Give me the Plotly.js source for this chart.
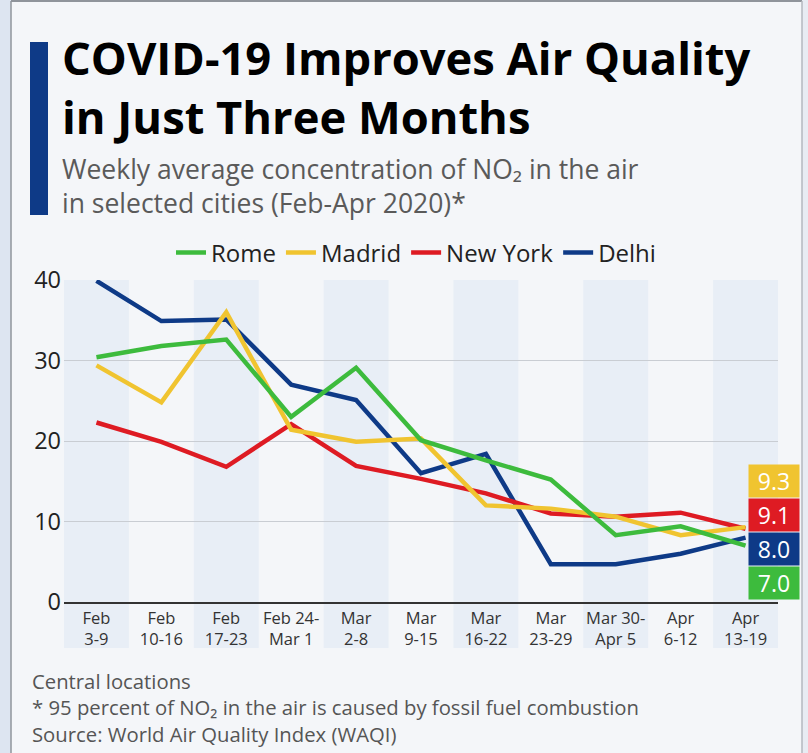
<!DOCTYPE html>
<html>
<head>
<meta charset="utf-8">
<script src="https://cdn.plot.ly/plotly-3.0.1.min.js"></script>
<style>
  html, body { margin: 0; padding: 0; background: #f4f6f9; }
  #chart { width: 808px; height: 753px; }
</style>
</head>
<body>
<div id="chart"></div>
<script>
// ---- Data ----
const weeks = ['Feb<br>3-9', 'Feb<br>10-16', 'Feb<br>17-23', 'Feb 24-<br>Mar 1', 'Mar<br>2-8', 'Mar<br>9-15',
               'Mar<br>16-22', 'Mar<br>23-29', 'Mar 30-<br>Apr 5', 'Apr<br>6-12', 'Apr<br>13-19'];
const rome    = [30.4, 31.8, 32.6, 23.0, 29.1, 20.1, 17.6, 15.2, 8.3, 9.4, 7.0];
const madrid  = [29.4, 24.8, 36.0, 21.4, 19.9, 20.3, 12.0, 11.6, 10.6, 8.3, 9.3];
const newYork = [22.3, 19.9, 16.8, 22.1, 16.9, 15.3, 13.5, 11.0, 10.6, 11.1, 9.1];
const delhi   = [39.9, 34.9, 35.1, 27.0, 25.1, 16.0, 18.4, 4.7, 4.7, 6.0, 8.0];
const cityNames = ['Rome', 'Madrid', 'New York', 'Delhi'];
const yTicks = [0, 10, 20, 30, 40];

const titleText = 'COVID-19 Improves Air Quality<br>in Just Three Months';
const subtitleText = 'Weekly average concentration of NO\u2082 in the air<br>' +
                     'in selected cities (Feb-Apr 2020)*';
const footerText = 'Central locations<br>' +
                   '* 95 percent of NO\u2082 in the air is caused by fossil fuel combustion<br>' +
                   'Source: World Air Quality Index (WAQI)';

// ---- Styling ----
const colors = { Rome: '#3dbb3d', Madrid: '#f0c430', 'New York': '#de1b23', Delhi: '#0e3a87' };
const series = { Rome: rome, Madrid: madrid, 'New York': newYork, Delhi: delhi };
const FONT = '"Open Sans", "Noto Sans", "DejaVu Sans", sans-serif';
const W = 808, H = 753;
const M = { l: 64, r: 30, t: 280, b: 151 };
const PW = W - M.l - M.r, PH = H - M.t - M.b;
const px = x => (x - M.l) / PW;          // pixel -> paper x
const py = y => (H - M.b - y) / PH;      // pixel -> paper y

// draw order: Delhi at bottom, Rome on top; legend reversed to read Rome..Delhi
const drawOrder = cityNames.slice().reverse();
const traces = drawOrder.map(name => ({
  type: 'scatter', mode: 'lines', name: name,
  x: weeks, y: series[name],
  line: { color: colors[name], width: 4.5 },
  hoverinfo: 'skip'
}));

// alternating column bands (even columns) reaching under the tick labels
const shapes = [];
weeks.forEach((w, i) => {
  if (i % 2 === 0) {
    shapes.push({ type: 'rect', layer: 'below', xref: 'x', yref: 'paper',
      x0: i - 0.5, x1: i + 0.5, y0: py(648), y1: 1,
      fillcolor: '#e8eef6', line: { width: 0 } });
  }
});
// frame / decoration
shapes.push({ type: 'rect', xref: 'paper', yref: 'paper', layer: 'below',
  x0: px(0), x1: px(11), y0: py(H), y1: py(0), fillcolor: '#dde5f1', line: { width: 0 } });
shapes.push({ type: 'rect', xref: 'paper', yref: 'paper', layer: 'below',
  x0: px(802), x1: px(W), y0: py(H), y1: py(0), fillcolor: '#e8ecf3', line: { width: 0 } });
shapes.push({ type: 'line', xref: 'paper', yref: 'paper',
  x0: px(11), x1: px(11), y0: py(H), y1: py(1), line: { color: '#8f949b', width: 1.5 } });
shapes.push({ type: 'line', xref: 'paper', yref: 'paper',
  x0: px(11), x1: px(802), y0: py(1), y1: py(1), line: { color: '#8f949b', width: 2 } });
shapes.push({ type: 'line', xref: 'paper', yref: 'paper',
  x0: px(802), x1: px(802), y0: py(H), y1: py(1), line: { color: '#b5b9bf', width: 1.5 } });
// title accent bar
shapes.push({ type: 'rect', xref: 'paper', yref: 'paper',
  x0: px(30), x1: px(48), y0: py(215), y1: py(42), fillcolor: '#0e3a87', line: { width: 0 } });

const annotations = [];
// title (two lines)
annotations.push({
  xref: 'paper', yref: 'paper', x: px(60), y: py(87), xanchor: 'left', yanchor: 'middle',
  text: '<b>' + titleText.split('<br>').join('</b><br><b>') + '</b>', showarrow: false, align: 'left',
  font: { family: FONT, size: 45.3, color: '#000000', weight: 700 }
});
// subtitle (two lines)
annotations.push({
  xref: 'paper', yref: 'paper', x: px(60), y: py(186), xanchor: 'left', yanchor: 'middle',
  text: subtitleText, showarrow: false, align: 'left',
  font: { family: FONT, size: 26.5, color: '#5a5a5a' }
});
// footer (three lines)
annotations.push({
  xref: 'paper', yref: 'paper', x: px(30), y: py(707), xanchor: 'left', yanchor: 'middle',
  text: footerText, showarrow: false, align: 'left',
  font: { family: FONT, size: 20.3, color: '#555555' }
});
// end-value labels, stacked to the right of the last point
const endOrder = ['Madrid', 'New York', 'Delhi', 'Rome'];
const endY = [481, 515, 549, 583];
endOrder.forEach((name, k) => {
  const vals = series[name];
  annotations.push({
    xref: 'paper', yref: 'paper', x: px(774), y: py(endY[k]), xanchor: 'center', yanchor: 'middle',
    text: vals[vals.length - 1].toFixed(1), showarrow: false,
    bgcolor: colors[name], width: 46, height: 28, borderpad: 2,
    font: { family: FONT, size: 23, color: '#ffffff' }
  });
});

const layout = {
  width: W, height: H,
  margin: M,
  paper_bgcolor: '#f4f6f9',
  plot_bgcolor: 'rgba(0,0,0,0)',
  font: { family: FONT, color: '#222222' },
  showlegend: true,
  legend: {
    orientation: 'h', traceorder: 'reversed',
    x: px(416), xanchor: 'center', y: py(253), yanchor: 'middle',
    font: { family: FONT, size: 24, color: '#222222' },
    bgcolor: 'rgba(0,0,0,0)', itemclick: false, itemdoubleclick: false
  },
  xaxis: {
    type: 'category', range: [-0.5, weeks.length - 0.5],
    showgrid: false, zeroline: false,
    showline: true, linecolor: '#333333', linewidth: 1.5,
    ticks: '', tickfont: { family: FONT, size: 16.5, color: '#333333' },
    fixedrange: true
  },
  yaxis: {
    range: [0, 40], tickvals: yTicks, ticktext: yTicks.map(String),
    showgrid: true, gridcolor: '#c9cdd3', gridwidth: 1,
    zeroline: false, showline: false, ticks: '',
    ticklabelstandoff: 2,
    tickfont: { family: FONT, size: 23.5, color: '#222222' },
    fixedrange: true
  },
  shapes: shapes,
  annotations: annotations
};

Plotly.newPlot('chart', traces, layout, { displayModeBar: false });
</script>
</body>
</html>
